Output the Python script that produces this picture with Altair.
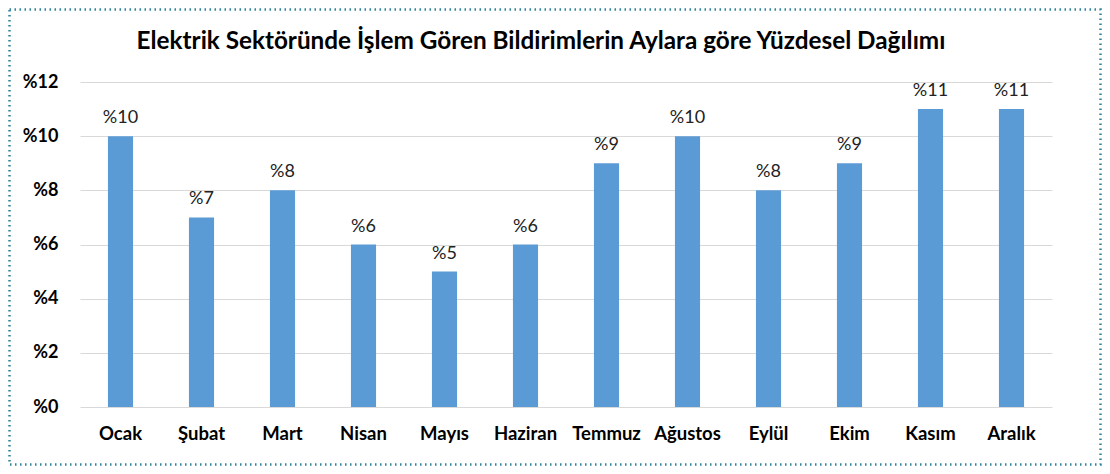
import altair as alt
import pandas as pd

months = ["Ocak", "Şubat", "Mart", "Nisan", "Mayıs", "Haziran", "Temmuz",
          "Ağustos", "Eylül", "Ekim", "Kasım", "Aralık"]
values = [10, 7, 8, 6, 5, 6, 9, 10, 8, 9, 11, 11]
labels = ["%" + str(v) for v in values]
y_ticks = [0, 2, 4, 6, 8, 10, 12]
title_text = ["Elektrik Sektöründe İşlem Gören Bildirimlerin Aylara göre Yüzdesel Dağılımı"]

df = pd.DataFrame({"Ay": months, "Deger": values, "Etiket": labels})

FONT = "Lato"
W, H = 972, 325
PL, PT, PR, PB = 72, 74, 50, 59

x = alt.X("Ay:N", sort=months, title=None,
          scale=alt.Scale(paddingInner=0.69, paddingOuter=0.345),
          axis=alt.Axis(labelAngle=0, labelFont=FONT, labelFontSize=18.5,
                        labelFontWeight="bold", labelColor="#000000",
                        labelPadding=17, ticks=False, domain=False, grid=False))
y = alt.Y("Deger:Q", title=None,
          scale=alt.Scale(domain=[0, 12], nice=False),
          axis=alt.Axis(values=y_ticks, labelExpr="'%' + datum.value",
                        labelFont=FONT, labelFontSize=18, labelFontWeight="bold",
                        labelColor="#000000", labelPadding=22, ticks=False,
                        domain=False, grid=True, gridColor="#D9D9D9",
                        gridWidth=1.2))

bars = alt.Chart(df).mark_bar(color="#5B9BD5").encode(x=x, y=y)
text = alt.Chart(df).mark_text(font=FONT, fontSize=18, color="#222222",
                               baseline="bottom", dy=-9).encode(
    x=alt.X("Ay:N", sort=months), y="Deger:Q", text="Etiket:N")

title = alt.Chart(pd.DataFrame({"t": title_text})).mark_text(
    font=FONT, fontSize=24.3, fontWeight="bold", color="#000000",
    align="center", baseline="middle").encode(
    x=alt.value(461), y=alt.value(-40), text="t:N")

border = alt.Chart(pd.DataFrame({"k": [0]})).mark_rect(
    fill=None, stroke="#31849B", strokeWidth=2.5, strokeDash=[1.5, 3.5],
    clip=False).encode(
    x=alt.value(-PL + 1.5), x2=alt.value(W + PR - 1.5),
    y=alt.value(-PT + 1.5), y2=alt.value(H + PB - 1.5))

chart = alt.layer(bars, text, title, border).properties(
    width=W, height=H,
    autosize=alt.AutoSizeParams(type="none"),
    padding={"left": PL, "top": PT, "right": PR, "bottom": PB},
).configure_view(stroke=None)

chart.save("out.html", embed_options={"renderer": "svg", "actions": False})
